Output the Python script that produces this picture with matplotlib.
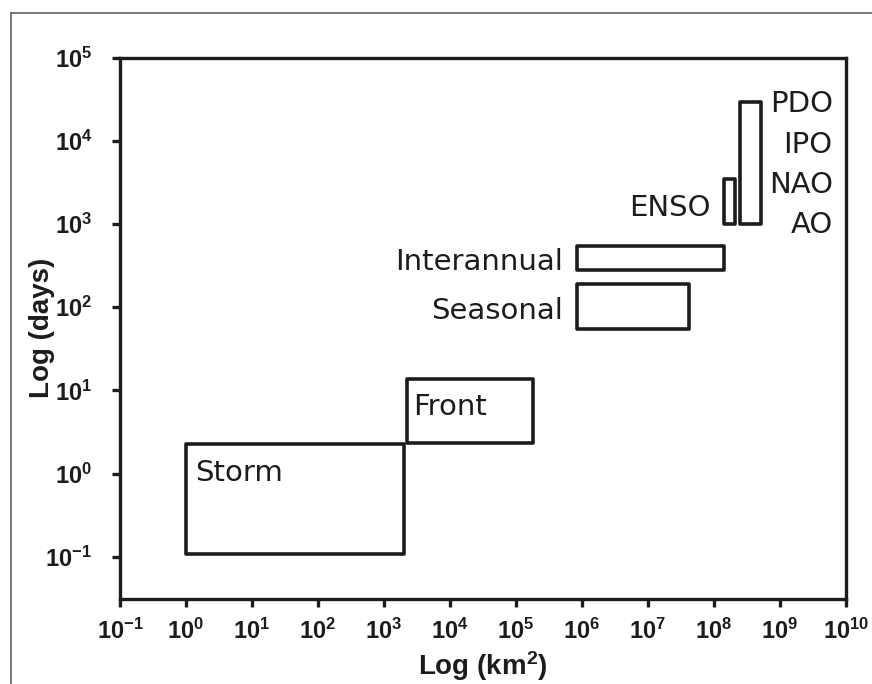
import matplotlib
matplotlib.use('Agg')
import numpy as np
import matplotlib.pyplot as plt
from matplotlib.patches import Rectangle
from matplotlib.lines import Line2D
from matplotlib.ticker import FixedLocator, FuncFormatter, NullLocator

# ---- data (scales: area in km^2, time in days) ----
names = ['Storm', 'Front', 'Seasonal', 'Interannual', 'ENSO', 'PDO']
x_min = [1.0, 2.2e3, 8.3e5, 8.3e5, 1.4e8, 2.5e8]
x_max = [2.0e3, 1.8e5, 4.2e7, 1.4e8, 2.1e8, 5.1e8]
y_min = [0.11, 2.35, 55, 280, 1000, 1000]
y_max = [2.3, 13.7, 190, 550, 3500, 2.9e4]
x_tick_exp = list(range(-1, 11))
y_tick_exp = list(range(-1, 6))
oscillations = ['PDO', 'IPO', 'NAO', 'AO']

plt.rcParams['font.family'] = 'Liberation Sans'
plt.rcParams['font.weight'] = 'bold'
plt.rcParams['mathtext.fontset'] = 'custom'
plt.rcParams['mathtext.bf'] = 'Liberation Sans:bold'
plt.rcParams['mathtext.rm'] = 'Liberation Sans:bold'
plt.rcParams['mathtext.it'] = 'Liberation Sans:bold'
plt.rcParams['mathtext.sf'] = 'Liberation Sans:bold'

W, H = 872, 684
fig = plt.figure(figsize=(W / 100, H / 100), dpi=100)
ax = fig.add_axes([120 / W, 1 - 599 / H, (846 - 120) / W, (599 - 57.5) / H])
ax.set_xscale('log')
ax.set_yscale('log')
ax.set_xlim(10.0 ** x_tick_exp[0], 10.0 ** x_tick_exp[-1])
ax.set_ylim(10 ** -1.505, 10.0 ** y_tick_exp[-1])

ink = '#1c1c1c'
for s in ax.spines.values():
    s.set_linewidth(2.4)
    s.set_color(ink)

fmt = FuncFormatter(lambda v, p: r'$\mathdefault{10^{%d}}$' % int(round(np.log10(v))))
ax.xaxis.set_major_locator(FixedLocator([10.0 ** e for e in x_tick_exp]))
ax.yaxis.set_major_locator(FixedLocator([10.0 ** e for e in y_tick_exp]))
ax.xaxis.set_minor_locator(NullLocator())
ax.yaxis.set_minor_locator(NullLocator())
ax.xaxis.set_major_formatter(fmt)
ax.yaxis.set_major_formatter(fmt)
ax.tick_params(axis='both', direction='out', length=6, width=2.4, color=ink,
               labelsize=17, labelcolor=ink, top=False, right=False)
ax.tick_params(axis='y', pad=14)
ax.tick_params(axis='x', pad=8)

ax.set_xlabel(r'Log (km$\mathdefault{^{2}}$)', fontsize=20, fontweight='bold',
              color=ink, family='Liberation Sans')
ax.set_ylabel('Log (days)', fontsize=20, fontweight='bold', color=ink,
              family='Liberation Sans')
ax.xaxis.set_label_coords(0.5, -0.093)
ax.yaxis.set_label_coords(-0.09, 0.5)

for x0, x1, y0, y1 in zip(x_min, x_max, y_min, y_max):
    ax.add_patch(Rectangle((x0, y0), x1 - x0, y1 - y0, fill=False,
                           edgecolor=ink, linewidth=2.6, joinstyle='round'))

tk = dict(fontsize=21, color=ink, family='DejaVu Sans', fontweight='normal',
          va='baseline', textcoords='offset pixels')
idx = {n: i for i, n in enumerate(names)}
# labels placed relative to their boxes
i = idx['Storm']
ax.annotate('Storm', (x_min[i], y_max[i]), xytext=(9, -37), ha='left', **tk)
i = idx['Front']
ax.annotate('Front', (x_min[i], y_max[i]), xytext=(7, -36), ha='left', **tk)
i = idx['Seasonal']
ax.annotate('Seasonal', (x_min[i], y_min[i]), xytext=(-14, 10), ha='right', **tk)
i = idx['Interannual']
ax.annotate('Interannual', (x_min[i], y_min[i]), xytext=(-14, 0), ha='right', **tk)
i = idx['ENSO']
ax.annotate('ENSO', (x_min[i], y_min[i]), xytext=(-13, 8), ha='right', **tk)
i = idx['PDO']
for k, lab in enumerate(oscillations):
    ax.annotate(lab, (x_max[i], y_max[i]), xytext=(72, -10 - 40.3 * k),
                ha='right', **tk)

# outer frame
fc = '#606060'
fig.add_artist(Line2D([10.5 / W, 10.5 / W], [0, 1 - 13 / H], color=fc, lw=1.2,
                      transform=fig.transFigure))
fig.add_artist(Line2D([10.5 / W, 1], [1 - 13 / H, 1 - 13 / H], color=fc, lw=1.2,
                      transform=fig.transFigure))

fig.savefig('out.png', dpi=100)
